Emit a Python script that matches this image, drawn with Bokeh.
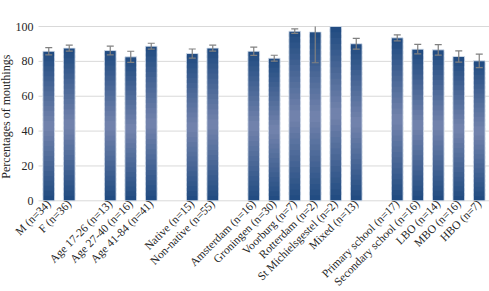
import numpy as np
from bokeh.plotting import figure
from bokeh.models import ColumnDataSource, FixedTicker, Range1d, Label
from bokeh.embed import file_html
from bokeh.resources import INLINE

# ---- data ----
categories = ["M (n=34)", "F (n=36)", " ",
              "Age 17-26 (n=13)", "Age 27-40 (n=16)", "Age 41-84 (n=41)", "  ",
              "Native (n=15)", "Non-native (n=55)", "   ",
              "Amsterdam (n=16)", "Groningen (n=30)", "Voorburg (n=7)", "Rotterdam (n=2)",
              "St Michielsgestel (n=2)", "Mixed (n=13)", "    ",
              "Primary school (n=17)", "Secondary school (n=16)", "LBO (n=14)",
              "MBO (n=16)", "HBO (n=7)"]
bar_categories = [c for c in categories if c.strip()]
values = [85.8, 87.6,
          86.2, 82.6, 88.7,
          84.5, 87.6,
          85.8, 81.8, 97.3, 96.9, 100.0, 90.1,
          93.5, 87.0, 86.6, 82.8, 80.3]
errors = [2.1, 1.7,
          2.5, 3.2, 1.7,
          2.6, 1.7,
          2.4, 1.7, 1.3, 17.7, 0.0, 3.1,
          1.7, 2.7, 3.0, 3.2, 3.9]
y_ticks = [0, 20, 40, 60, 80, 100]
y_label = "Percentages  of  mouthings"

FONT = "Liberation Serif"
TXT = "#262626"
DARK = np.array([0x1f, 0x4a, 0x80])
LIGHT = np.array([0x74, 0x84, 0xad])

positions = [categories.index(c) for c in bar_categories]
n_slots = len(categories)
y_max = y_ticks[-1]

# gradient slices per bar (vertical gradient: dark at ends, light in the middle)
N = 30
xs, bots, tops, cols = [], [], [], []
for x, v in zip(positions, values):
    for i in range(N):
        t = (i + 0.5) / N
        w = 1 - abs(t - 0.5) * 2
        rgb = np.round(DARK + (LIGHT - DARK) * w).astype(int)
        xs.append(x)
        bots.append(v * i / N)
        tops.append(v * (i + 1) / N + (v / N * 0.6 if i < N - 1 else 0))
        cols.append("#%02x%02x%02x" % tuple(rgb))
grad = ColumnDataSource(dict(x=xs, bottom=bots, top=tops, color=cols))

upper = [v + e for v, e in zip(values, errors)]
lower = [v - e for v, e in zip(values, errors)]
src = ColumnDataSource(dict(
    x=positions, top=values,
    upper_line=[min(u, y_max) for u in upper],          # axis ends at 100
    upper_cap=[u if (u <= y_max and e > 0) else np.nan for u, e in zip(upper, errors)],
    lower_cap=[l if e > 0 else np.nan for l, e in zip(lower, errors)],
    lower=lower,
))
grid = ColumnDataSource(dict(y=y_ticks, x0=[-0.5] * len(y_ticks),
                             x1=[n_slots - 0.5] * len(y_ticks)))

# pixel layout: category area 38..489 px, value 0 at 200.3 px, 100 at 26 px
W, H = 489, 291
TOP = 12
slot_px = (W - 38) / n_slots
y_px = (200.3 - 26) / 100
x_start = -0.5 - 38 / slot_px
y_end = 100 + (26 - TOP) / y_px
y_start = -(H - 200.3) / y_px

p = figure(width=W, height=H, x_range=Range1d(x_start, n_slots - 0.5),
           y_range=Range1d(y_start, y_end), output_backend="svg", toolbar_location=None,
           min_border_top=TOP, min_border_right=0, min_border_left=0, min_border_bottom=0)
p.outline_line_color = None

p.segment(x0="x0", y0="y", x1="x1", y1="y", source=grid, line_color="#d9d9d9", line_width=1)

p.vbar(x="x", bottom="bottom", top="top", width=0.57, source=grad,
       fill_color="color", line_color=None)
p.vbar(x="x", top="top", width=0.57, source=src, fill_alpha=0,
       line_color="#dbe3ef", line_width=0.8)

p.segment(x0="x", y0="lower", x1="x", y1="upper_line", source=src,
          line_color="#808080", line_width=1.2)
p.scatter(x="x", y="upper_cap", source=src, marker="dash", size=7,
          line_color="#808080", line_width=1.2)
p.scatter(x="x", y="lower_cap", source=src, marker="dash", size=7,
          line_color="#808080", line_width=1.2)

# x axis drawn at y = 0 inside the frame
p.xaxis.fixed_location = 0
p.xaxis.ticker = FixedTicker(ticks=positions)
p.xaxis.major_label_overrides = {x: c for x, c in zip(positions, bar_categories)}
p.xaxis.major_label_orientation = np.pi / 4
p.xaxis.major_label_text_font = FONT
p.xaxis.major_label_text_font_size = "11.5px"
p.xaxis.major_label_text_color = TXT
p.xaxis.major_label_standoff = 1
p.xaxis.major_tick_out = 0
p.xaxis.major_tick_in = 0
p.xaxis.axis_line_color = None
p.xaxis.major_tick_line_color = None
p.xaxis.minor_tick_line_color = None

# y axis drawn at the left end of the category area
p.yaxis.fixed_location = -0.5
p.yaxis.ticker = FixedTicker(ticks=y_ticks)
p.yaxis.major_label_text_font = FONT
p.yaxis.major_label_text_font_size = "12px"
p.yaxis.major_label_text_color = TXT
p.yaxis.major_label_standoff = 5
p.yaxis.major_tick_out = 0
p.yaxis.major_tick_in = 0
p.yaxis.axis_line_color = None
p.yaxis.major_tick_line_color = None
p.yaxis.minor_tick_line_color = None

p.add_layout(Label(x=-0.5 - (38 - 5.5) / slot_px, y=50, text=y_label, angle=np.pi / 2,
                   text_align="center", text_baseline="middle",
                   text_font=FONT, text_font_size="12px", text_color=TXT))

p.xgrid.grid_line_color = None
p.ygrid.grid_line_color = None

open("out.html", "w").write(file_html(p, INLINE))
